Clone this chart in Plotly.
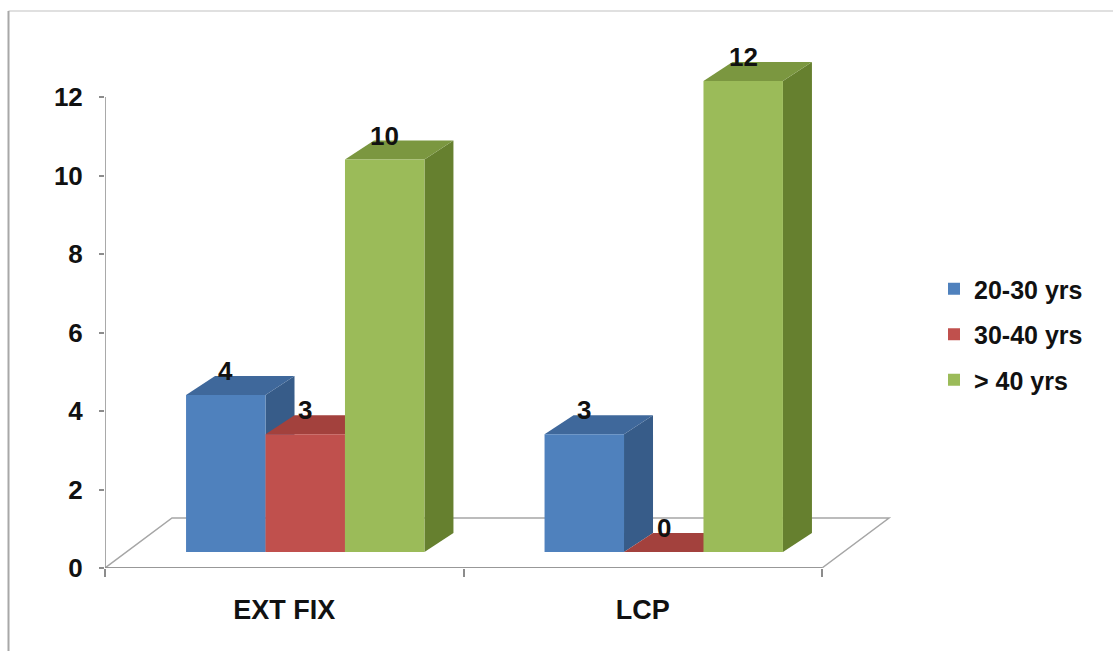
import plotly.graph_objects as go

# ---- data -------------------------------------------------------------
CATEGORIES = ["EXT FIX", "LCP"]
SERIES = ["20-30 yrs", "30-40 yrs", "> 40 yrs"]
VALUES_20_30 = [4, 3]
VALUES_30_40 = [3, 0]
VALUES_OVER_40 = [10, 12]
Y_TICKS = [0, 2, 4, 6, 8, 10, 12]

SERIES_VALUES = [VALUES_20_30, VALUES_30_40, VALUES_OVER_40]

# ---- style ------------------------------------------------------------
FRONT = ["#4F81BD", "#C0504D", "#9BBB59"]   # front faces / legend
TOP = ["#3F689B", "#A3413D", "#7B9740"]     # lit top faces
SIDE = ["#375C89", "#8F3735", "#66802F"]    # shaded right faces
AXIS_GREY = "#8C8C8C"
FONT = "Liberation Sans, Arial, sans-serif"
TEXT_COLOR = "#111111"

W, H = 1113, 651
PLOT_L, PLOT_R, PLOT_T, PLOT_B = 105, 930, 30, 568
UX = 358.5          # pixels per category slot
UY = 39.25          # pixels per value unit

# pseudo-3D geometry (pixels)
BAR_SHIFT_X, BAR_SHIFT_Y = 21, 16     # bars stand a little back on the floor
DEPTH_PX_X, DEPTH_PX_Y = 29, 19       # bar depth
FLOOR_PX_X, FLOOR_PX_Y = 67, 50       # floor depth
BARGAP = 0.335

x_range = [-0.5, -0.5 + (PLOT_R - PLOT_L) / UX]
y_range = [0, (PLOT_B - PLOT_T) / UY]
x2_range = [v - BAR_SHIFT_X / UX for v in x_range]
y2_range = [v - BAR_SHIFT_Y / UY for v in y_range]

dx, dy = DEPTH_PX_X / UX, DEPTH_PX_Y / UY
fx, fy = FLOOR_PX_X / UX, FLOOR_PX_Y / UY

x_pos = list(range(len(CATEGORIES)))
group_w = 1 - BARGAP
bar_w = group_w / len(SERIES)


def paper_x(px):
    return (px - PLOT_L) / (PLOT_R - PLOT_L)


def paper_y(py):
    return (PLOT_B - py) / (PLOT_B - PLOT_T)


fig = go.Figure()

for i, (name, vals) in enumerate(zip(SERIES, SERIES_VALUES)):
    fig.add_trace(go.Bar(
        x=x_pos, y=vals, name=name, legendgroup=name,
        marker=dict(color=FRONT[i], line=dict(width=0)),
        xaxis="x2", yaxis="y2",
        hovertemplate="%{y}<extra>" + name + "</extra>",
    ))

shapes = []

# chart frame
shapes.append(dict(type="line", xref="paper", yref="paper",
                   x0=paper_x(8.5), x1=paper_x(W), y0=paper_y(11), y1=paper_y(11),
                   line=dict(color="#D6D6D6", width=1.5), layer="below"))
shapes.append(dict(type="line", xref="paper", yref="paper",
                   x0=paper_x(8.5), x1=paper_x(8.5), y0=paper_y(11), y1=paper_y(H),
                   line=dict(color="#A8A8A8", width=2), layer="below"))

# floor
x0f, x1f = x_pos[0] - 0.5, x_pos[-1] + 0.5
shapes.append(dict(
    type="path", xref="x", yref="y", layer="below",
    path=f"M{x0f},0 L{x1f},0 L{x1f + fx},{fy} L{x0f + fx},{fy} Z",
    fillcolor="white", line=dict(color="#A6A6A6", width=1.5)))
shapes.append(dict(type="line", xref="x", yref="y", layer="below",
                   x0=x0f, x1=x1f, y0=0, y1=0,
                   line=dict(color=AXIS_GREY, width=1.5)))
# value axis line
shapes.append(dict(type="line", xref="x", yref="y", layer="below",
                   x0=x0f, x1=x0f, y0=Y_TICKS[0], y1=Y_TICKS[-1],
                   line=dict(color=AXIS_GREY, width=1.5)))

# side and top faces, left to right so neighbours overlap correctly
for j in x_pos:
    for i, vals in enumerate(SERIES_VALUES):
        v = vals[j]
        left = j - group_w / 2 + i * bar_w
        right = left + bar_w
        shapes.append(dict(
            type="path", xref="x2", yref="y2", layer="below",
            path=(f"M{right},0 L{right + dx},{dy} L{right + dx},{v + dy} "
                  f"L{right},{v} Z"),
            fillcolor=SIDE[i], line=dict(width=0)))
        shapes.append(dict(
            type="path", xref="x2", yref="y2", layer="below",
            path=(f"M{left},{v} L{left + dx},{v + dy} L{right + dx},{v + dy} "
                  f"L{right},{v} Z"),
            fillcolor=TOP[i], line=dict(width=0)))

annotations = []
for i, vals in enumerate(SERIES_VALUES):
    for j, v in zip(x_pos, vals):
        annotations.append(dict(
            x=j - group_w / 2 + (i + 0.5) * bar_w, y=v, xref="x2", yref="y2",
            text=str(v), showarrow=False, yshift=24,
            font=dict(family=FONT, size=26, color=TEXT_COLOR, weight="bold")))

fig.update_layout(
    width=W, height=H,
    margin=dict(l=PLOT_L, r=W - PLOT_R, t=PLOT_T, b=H - PLOT_B, pad=0),
    paper_bgcolor="white", plot_bgcolor="rgba(0,0,0,0)",
    barmode="group", bargap=BARGAP, bargroupgap=0,
    shapes=shapes, annotations=annotations,
    font=dict(family=FONT, size=26, color=TEXT_COLOR),
    xaxis=dict(
        range=x_range, tickvals=x_pos, ticktext=CATEGORIES,
        showgrid=False, zeroline=False, showline=False, ticks="",
        tickfont=dict(family=FONT, size=27, color=TEXT_COLOR, weight="bold"),
        ticklabelstandoff=23,
        minor=dict(ticks="outside", tick0=-0.5, dtick=1, ticklen=8,
                   tickcolor=AXIS_GREY, tickwidth=1.5, showgrid=False),
    ),
    yaxis=dict(
        range=y_range, tickvals=Y_TICKS,
        showgrid=False, zeroline=False, showline=False,
        ticks="outside", ticklen=5, tickcolor=AXIS_GREY, tickwidth=1.5,
        tickfont=dict(family=FONT, size=26, color=TEXT_COLOR, weight="bold"),
        ticklabelstandoff=11,
    ),
    xaxis2=dict(range=x2_range, overlaying="x", visible=False),
    yaxis2=dict(range=y2_range, overlaying="y", visible=False),
    legend=dict(
        x=paper_x(934), y=paper_y(266), xanchor="left", yanchor="top",
        font=dict(family=FONT, size=25, color=TEXT_COLOR, weight="bold"),
        tracegroupgap=10, bgcolor="rgba(0,0,0,0)", itemwidth=30,
    ),
    showlegend=True,
)

fig.write_html("out.html")
